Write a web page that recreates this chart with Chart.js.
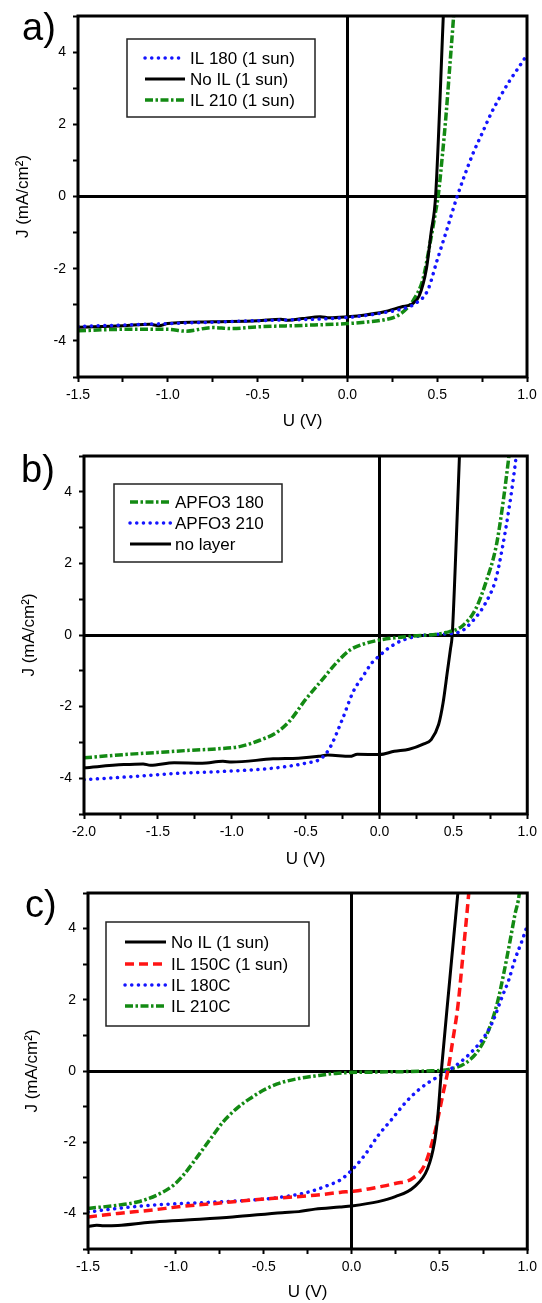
<!DOCTYPE html>
<html>
<head>
<meta charset="utf-8">
<script src="https://cdn.jsdelivr.net/npm/chart.js@4.4.1/dist/chart.umd.min.js"></script>
<style>
  html, body { margin: 0; padding: 0; background: #fff; }
  canvas { display: block; }
</style>
</head>
<body>
<canvas id="chart-a" width="542" height="434"></canvas>
<canvas id="chart-b" width="542" height="434"></canvas>
<canvas id="chart-c" width="542" height="435"></canvas>
<script>
// ---- panel a) ----
const aIL180U = [-1.5, -1.0, -0.5, 0, 0.2, 0.3, 0.38, 0.447, 0.5, 0.553, 0.611, 0.65, 0.7, 0.75, 0.8, 0.85, 0.9, 0.95, 1.0];
const aIL180J = [-3.6, -3.52, -3.44, -3.35, -3.22, -3.12, -2.96, -2.6, -1.76, -0.93, 0, 0.55, 1.2, 1.75, 2.3, 2.76, 3.18, 3.55, 3.92];
const aNoILU = [-1.5, -1.25, -1.1, -1.05, -1.0, -0.75, -0.5, -0.37, -0.33, -0.25, -0.15, -0.1, 0, 0.1, 0.2, 0.3, 0.36, 0.40, 0.44, 0.466, 0.491, 0.534, 0.545];
const aNoILJ = [-3.62, -3.58, -3.54, -3.58, -3.52, -3.47, -3.44, -3.40, -3.43, -3.38, -3.33, -3.36, -3.33, -3.28, -3.2, -3.06, -2.98, -2.75, -2.0, -1.0, 0, 5.0, 6.3];
const aIL210U = [-1.5, -1.25, -1.0, -0.9, -0.75, -0.65, -0.5, -0.25, 0, 0.1, 0.2, 0.28, 0.33, 0.37, 0.42, 0.46, 0.49, 0.505, 0.53, 0.55, 0.57, 0.59, 0.60];
const aIL210J = [-3.72, -3.68, -3.68, -3.73, -3.63, -3.66, -3.61, -3.57, -3.52, -3.48, -3.42, -3.30, -3.10, -2.85, -2.3, -1.3, -0.45, 0, 1.2, 2.3, 3.6, 4.9, 5.6];

// ---- panel b) ----
const bAPFO180U = [-2.0, -1.73, -1.5, -1.28, -1.1, -0.94, -0.81, -0.70, -0.61, -0.5, -0.39, -0.29, -0.2, -0.1, 0, 0.1, 0.23, 0.45, 0.56, 0.65, 0.72, 0.79, 0.83, 0.876, 0.89];
const bAPFO180J = [-3.43, -3.34, -3.28, -3.22, -3.18, -3.11, -2.94, -2.73, -2.41, -1.80, -1.26, -0.77, -0.42, -0.24, -0.14, -0.08, -0.03, 0.07, 0.25, 0.72, 1.47, 2.49, 3.52, 5.0, 5.5];
const bAPFO210U = [-2.0, -1.73, -1.39, -1.06, -0.72, -0.5, -0.40, -0.34, -0.25, -0.18, -0.11, -0.05, 0, 0.05, 0.16, 0.385, 0.54, 0.63, 0.72, 0.787, 0.83, 0.876, 0.91, 0.925, 0.935];
const bAPFO210J = [-4.04, -3.97, -3.87, -3.81, -3.72, -3.58, -3.46, -3.18, -2.34, -1.6, -1.14, -0.77, -0.58, -0.40, -0.14, 0.02, 0.08, 0.39, 0.91, 1.56, 2.4, 3.52, 4.5, 5.0, 5.4];
const bNoLayerU = [-2.0, -1.73, -1.6, -1.55, -1.39, -1.2, -1.06, -1.0, -0.72, -0.55, -0.41, -0.35, -0.2, -0.15, 0, 0.1, 0.2, 0.3, 0.35, 0.40, 0.43, 0.46, 0.48, 0.492, 0.52, 0.541, 0.55];
const bNoLayerJ = [-3.71, -3.62, -3.60, -3.64, -3.57, -3.58, -3.53, -3.55, -3.46, -3.44, -3.39, -3.35, -3.39, -3.33, -3.34, -3.25, -3.19, -3.04, -2.92, -2.5, -1.9, -1.0, -0.4, 0, 2.7, 5.0, 5.9];

// ---- panel c) ----
const cNoILU = [-1.5, -1.45, -1.41, -1.33, -1.145, -0.958, -0.677, -0.395, -0.3, -0.208, -0.067, 0, 0.152, 0.249, 0.355, 0.433, 0.472, 0.491, 0.511, 0.557, 0.605, 0.615];
const cNoILJ = [-4.37, -4.33, -4.35, -4.34, -4.25, -4.19, -4.10, -3.98, -3.95, -3.88, -3.82, -3.79, -3.67, -3.53, -3.26, -2.74, -2.0, -1.26, 0, 2.47, 5.0, 5.5];
const cIL150U = [-1.5, -1.33, -1.145, -0.958, -0.77, -0.583, -0.395, -0.208, -0.067, 0, 0.054, 0.152, 0.249, 0.347, 0.415, 0.454, 0.483, 0.522, 0.548, 0.577, 0.605, 0.633, 0.667, 0.675];
const cIL150J = [-4.10, -4.0, -3.91, -3.80, -3.72, -3.63, -3.56, -3.49, -3.41, -3.38, -3.35, -3.26, -3.16, -3.02, -2.65, -2.09, -1.53, -0.6, 0, 0.89, 1.82, 3.21, 5.0, 5.5];
const cIL180U = [-1.5, -1.33, -1.145, -0.958, -0.77, -0.583, -0.395, -0.245, -0.133, -0.067, 0, 0.074, 0.152, 0.23, 0.308, 0.386, 0.445, 0.53, 0.614, 0.67, 0.745, 0.80, 0.858, 0.895, 0.929, 0.971, 1.0];
const cIL180J = [-3.96, -3.86, -3.77, -3.72, -3.68, -3.63, -3.54, -3.40, -3.21, -3.07, -2.79, -2.37, -1.81, -1.35, -0.88, -0.51, -0.30, -0.05, 0.23, 0.47, 0.89, 1.35, 2.1, 2.56, 3.12, 3.67, 4.09];
const cIL210U = [-1.5, -1.33, -1.22, -1.11, -1.014, -0.958, -0.90, -0.845, -0.79, -0.733, -0.658, -0.583, -0.49, -0.395, -0.30, -0.208, -0.076, 0.145, 0.426, 0.557, 0.651, 0.726, 0.782, 0.83, 0.867, 0.90, 0.93, 0.955, 0.96];
const cIL210J = [-3.86, -3.77, -3.68, -3.49, -3.21, -2.93, -2.56, -2.19, -1.82, -1.44, -1.07, -0.79, -0.51, -0.32, -0.21, -0.14, -0.06, -0.03, 0.0, 0.05, 0.23, 0.61, 1.17, 1.92, 2.76, 3.6, 4.4, 5.0, 5.3];

const FONT = '"Liberation Sans", Arial, Helvetica, sans-serif';
Chart.defaults.font.family = FONT;
Chart.defaults.color = '#000';

const toPoints = (u, j) => u.map((x, i) => ({ x: x, y: j[i] }));

const lineStyles = {
    black: { borderColor: '#000000', borderWidth: 3, borderDash: [], borderCapStyle: 'butt' },
    blue: { borderColor: '#1414ff', borderWidth: 3.5, borderDash: [0.1, 6.6], borderCapStyle: 'round' },
    green: { borderColor: '#138a13', borderWidth: 3.5, borderDash: [8, 2.5, 2.5, 2.5], borderCapStyle: 'butt' },
    red: { borderColor: '#ff1414', borderWidth: 3.5, borderDash: [9, 5], borderCapStyle: 'butt' }
};

const series = (label, u, j, style) => Object.assign({ label: label, data: toPoints(u, j) }, lineStyles[style]);

// frame, legend box and panel letter
const decorPlugin = {
    id: 'decor',
    afterDatasetsDraw(chart, args, opts) {
        const ctx = chart.ctx;
        const area = chart.chartArea;
        ctx.save();
        ctx.strokeStyle = '#000';
        ctx.lineWidth = 3;
        ctx.strokeRect(area.left, area.top, area.right - area.left, area.bottom - area.top);

        const [bx, by, bw, bh] = opts.box;
        ctx.fillStyle = '#fff';
        ctx.fillRect(bx, by, bw, bh);
        ctx.lineWidth = 1.5;
        ctx.strokeStyle = '#222';
        ctx.strokeRect(bx, by, bw, bh);

        chart.data.datasets.forEach((ds, i) => {
            const y = opts.rows[i];
            ctx.beginPath();
            ctx.strokeStyle = ds.borderColor;
            ctx.lineWidth = ds.borderWidth;
            ctx.lineCap = ds.borderCapStyle;
            ctx.setLineDash(ds.borderDash);
            ctx.moveTo(opts.sample[0], y);
            ctx.lineTo(opts.sample[1], y);
            ctx.stroke();
            ctx.setLineDash([]);
            ctx.fillStyle = '#000';
            ctx.font = '17px ' + FONT;
            ctx.textAlign = 'left';
            ctx.textBaseline = 'middle';
            ctx.fillText(ds.label, opts.textX, y + 1);
        });

        ctx.font = '38px ' + FONT;
        ctx.textBaseline = 'alphabetic';
        ctx.fillStyle = '#000';
        ctx.fillText(opts.letter, opts.letterPos[0], opts.letterPos[1]);
        ctx.restore();
    }
};

const isZero = v => Math.abs(v) < 1e-9;

const createIVChart = (id, datasets, xMin, area, decor) => {
    const canvas = document.getElementById(id);
    return new Chart(canvas, {
        type: 'line',
        data: { datasets: datasets },
        options: {
            responsive: false,
            animation: false,
            devicePixelRatio: 1,
            layout: { padding: { top: area.top, right: canvas.width - area.right, left: 0, bottom: 0 } },
            elements: {
                point: { radius: 0 },
                line: { cubicInterpolationMode: 'monotone', fill: false }
            },
            plugins: {
                legend: { display: false },
                tooltip: { enabled: false },
                decor: decor
            },
            scales: {
                x: {
                    type: 'linear',
                    min: xMin,
                    max: 1,
                    afterFit: scale => { scale.height = canvas.height - area.bottom; },
                    border: { display: false },
                    grid: {
                        color: ctx => (ctx.tick && isZero(ctx.tick.value)) ? '#000' : 'rgba(0,0,0,0)',
                        lineWidth: 3,
                        tickColor: '#000',
                        tickWidth: 2,
                        tickLength: 5
                    },
                    ticks: {
                        stepSize: 0.25,
                        autoSkip: false,
                        maxRotation: 0,
                        padding: 5,
                        font: { size: 14 },
                        callback: v => isZero(v * 2 - Math.round(v * 2)) ? v.toFixed(1) : ''
                    },
                    title: { display: true, text: 'U (V)', font: { size: 17 }, padding: { top: 0, bottom: area.xTitlePad } }
                },
                y: {
                    type: 'linear',
                    min: -5,
                    max: 5,
                    afterFit: scale => { scale.width = area.left; },
                    border: { display: false },
                    grid: {
                        color: ctx => (ctx.tick && isZero(ctx.tick.value)) ? '#000' : 'rgba(0,0,0,0)',
                        lineWidth: 3,
                        tickColor: '#000',
                        tickWidth: 2,
                        tickLength: 5
                    },
                    ticks: {
                        stepSize: 1,
                        autoSkip: false,
                        padding: 7,
                        font: { size: 14 },
                        callback: v => (v % 2 === 0 && Math.abs(v) < 5) ? String(v) : ''
                    },
                    title: { display: true, text: 'J (mA/cm²)', font: { size: 17 }, padding: { top: area.yTitlePad, bottom: 0 } }
                }
            }
        },
        plugins: [decorPlugin]
    });
};

createIVChart('chart-a', [
    series('IL 180 (1 sun)', aIL180U, aIL180J, 'blue'),
    series('No IL (1 sun)', aNoILU, aNoILJ, 'black'),
    series('IL 210 (1 sun)', aIL210U, aIL210J, 'green')
], -1.5,
{ left: 78, right: 527, top: 16, bottom: 377, xTitlePad: 2, yTitlePad: 13 },
{ box: [127, 39, 188, 78], rows: [58, 79, 100], sample: [145, 185], textX: 190, letter: 'a)', letterPos: [22, 40] });

createIVChart('chart-b', [
    series('APFO3 180', bAPFO180U, bAPFO180J, 'green'),
    series('APFO3 210', bAPFO210U, bAPFO210J, 'blue'),
    series('no layer', bNoLayerU, bNoLayerJ, 'black')
], -2.0,
{ left: 84, right: 532, top: 22, bottom: 380, xTitlePad: -2, yTitlePad: 19 },
{ box: [114, 50, 168, 78], rows: [68, 89, 110], sample: [130, 171], textX: 175, letter: 'b)', letterPos: [21, 48] });

createIVChart('chart-c', [
    series('No IL (1 sun)', cNoILU, cNoILJ, 'black'),
    series('IL 150C (1 sun)', cIL150U, cIL150J, 'red'),
    series('IL 180C', cIL180U, cIL180J, 'blue'),
    series('IL 210C', cIL210U, cIL210J, 'green')
], -1.5,
{ left: 88, right: 532, top: 25, bottom: 381, xTitlePad: 0, yTitlePad: 22 },
{ box: [106, 54, 203, 104], rows: [74, 96, 117, 138], sample: [125, 166], textX: 171, letter: 'c)', letterPos: [25, 49] });
</script>
</body>
</html>
